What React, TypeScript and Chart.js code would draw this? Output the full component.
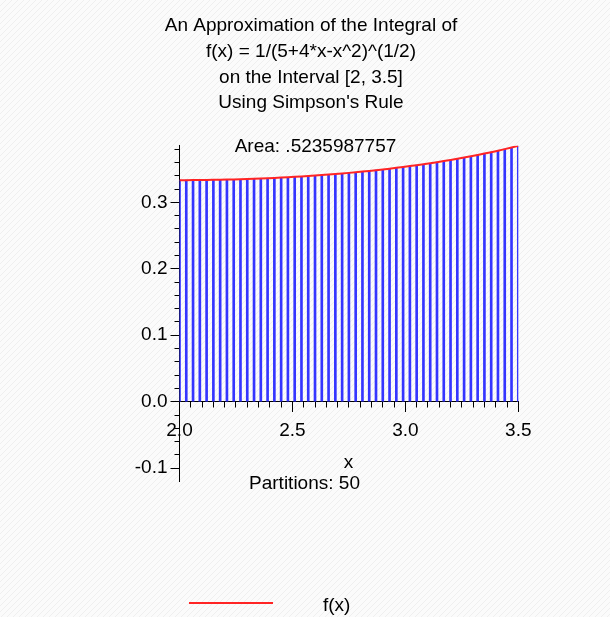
import { useEffect, useRef } from 'react';
import { Chart, registerables } from 'chart.js';

Chart.register(...registerables);

// ---- data ----
const xValues = [
  2.00, 2.03, 2.06, 2.09, 2.12, 2.15, 2.18, 2.21, 2.24, 2.27,
  2.30, 2.33, 2.36, 2.39, 2.42, 2.45, 2.48, 2.51, 2.54, 2.57,
  2.60, 2.63, 2.66, 2.69, 2.72, 2.75, 2.78, 2.81, 2.84, 2.87,
  2.90, 2.93, 2.96, 2.99, 3.02, 3.05, 3.08, 3.11, 3.14, 3.17,
  3.20, 3.23, 3.26, 3.29, 3.32, 3.35, 3.38, 3.41, 3.44, 3.47, 3.50,
];
const fValues = [
  0.33333, 0.33335, 0.33340, 0.33348, 0.33360, 0.33375, 0.33394, 0.33415, 0.33441, 0.33469,
  0.33501, 0.33537, 0.33576, 0.33619, 0.33665, 0.33715, 0.33768, 0.33826, 0.33887, 0.33952,
  0.34021, 0.34094, 0.34171, 0.34252, 0.34337, 0.34427, 0.34521, 0.34619, 0.34722, 0.34830,
  0.34943, 0.35061, 0.35183, 0.35312, 0.35445, 0.35584, 0.35729, 0.35880, 0.36037, 0.36200,
  0.36370, 0.36546, 0.36730, 0.36921, 0.37120, 0.37326, 0.37541, 0.37764, 0.37997, 0.38238, 0.38490,
];
const xMajorTicks = [2.0, 2.5, 3.0, 3.5];
const xMinorTicks = [
  2.00, 2.05, 2.10, 2.15, 2.20, 2.25, 2.30, 2.35, 2.40, 2.45,
  2.50, 2.55, 2.60, 2.65, 2.70, 2.75, 2.80, 2.85, 2.90, 2.95,
  3.00, 3.05, 3.10, 3.15, 3.20, 3.25, 3.30, 3.35, 3.40, 3.45, 3.50,
];
const yMajorTicks = [-0.1, 0.0, 0.1, 0.2, 0.3];
const yMinorTicks = [
  -0.10, -0.08, -0.06, -0.04, -0.02, 0.00, 0.02, 0.04, 0.06, 0.08,
  0.10, 0.12, 0.14, 0.16, 0.18, 0.20, 0.22, 0.24, 0.26, 0.28,
  0.30, 0.32, 0.34, 0.36, 0.38,
];
const titleLines = [
  'An Approximation of the Integral of',
  'f(x) = 1/(5+4*x-x^2)^(1/2)',
  'on the Interval [2, 3.5]',
  "Using Simpson's Rule",
];
const areaText = 'Area: .5235987757';
const partitionsText = 'Partitions: 50';
const xAxisLabel = 'x';
const seriesLabel = 'f(x)';

const FONT_FAMILY = '"Liberation Sans", Arial, sans-serif';
const FONT = `19px ${FONT_FAMILY}`;
const RED = '#ff2424';
const BLUE = '#3535ff';
const Y_AXIS_BOX = 60;

const backgroundPlugin = {
  id: 'hatchBackground',
  beforeDraw(chart: any) {
    const { ctx, width, height } = chart;
    const tile = document.createElement('canvas');
    tile.width = 6;
    tile.height = 6;
    const t = tile.getContext('2d')!;
    t.fillStyle = '#fbfbfb';
    t.fillRect(0, 0, 6, 6);
    t.strokeStyle = '#efefef';
    t.lineWidth = 1;
    t.beginPath();
    t.moveTo(0, 6);
    t.lineTo(6, 0);
    t.stroke();
    const pattern = ctx.createPattern(tile, 'repeat');
    ctx.save();
    ctx.fillStyle = pattern || '#fbfbfb';
    ctx.fillRect(0, 0, width, height);
    ctx.restore();
  },
};

const annotationPlugin = {
  id: 'maplePlotText',
  afterDraw(chart: any) {
    const { ctx } = chart;
    ctx.save();
    ctx.font = FONT;
    ctx.fillStyle = '#000';
    ctx.textAlign = 'center';
    ctx.textBaseline = 'alphabetic';
    const baselines = [31, 56.5, 82.5, 107.5];
    titleLines.forEach((line, i) => ctx.fillText(line, 311, baselines[i]));
    ctx.fillText(areaText, 315.5, 151.5);
    ctx.fillText(xAxisLabel, 348.5, 468);
    ctx.fillText(partitionsText, 304.5, 489);
    // legend
    ctx.strokeStyle = RED;
    ctx.lineWidth = 2;
    ctx.beginPath();
    ctx.moveTo(189, 603);
    ctx.lineTo(273, 603);
    ctx.stroke();
    ctx.textAlign = 'left';
    ctx.fillText(seriesLabel, 323, 611);
    ctx.restore();
  },
};

export default function App() {
  const canvasRef = useRef<HTMLCanvasElement | null>(null);

  useEffect(() => {
    if (!canvasRef.current) return;
    const points = xValues.map((x, i) => ({ x, y: fValues[i] }));
    const tickFont = { family: FONT_FAMILY, size: 19 };
    const chart = new Chart(canvasRef.current, {
      type: 'line',
      data: {
        datasets: [
          {
            type: 'line',
            label: seriesLabel,
            data: points,
            borderColor: RED,
            borderWidth: 2,
            pointRadius: 0,
            tension: 0,
            order: 0,
          },
          {
            type: 'bar',
            label: 'partitions',
            data: points,
            backgroundColor: BLUE,
            borderWidth: 0,
            barThickness: 2,
            order: 1,
          } as any,
        ],
      },
      options: {
        animation: false,
        responsive: false,
        events: [],
        layout: { padding: { left: 179.5 - Y_AXIS_BOX, right: 91.7, top: 145.8, bottom: 135.5 } },
        plugins: {
          legend: { display: false },
          tooltip: { enabled: false },
          title: { display: false },
        },
        scales: {
          x: {
            type: 'linear',
            min: 2,
            max: 3.5,
            offset: false,
            position: { y: 0 } as any,
            z: 1,
            afterBuildTicks: (scale: any) => {
              scale.ticks = xMajorTicks.map((value) => ({ value }));
            },
            ticks: {
              callback: (v: any) => Number(v).toFixed(1),
              font: tickFont,
              color: '#000',
              padding: 8,
              maxRotation: 0,
              autoSkip: false,
            },
            grid: { offset: false, drawOnChartArea: false, drawTicks: true, tickLength: 10, tickColor: '#000', tickWidth: 1 },
            border: { display: true, color: '#000', width: 1 },
          },
          xMinor: {
            type: 'linear',
            axis: 'x',
            min: 2,
            max: 3.5,
            offset: false,
            position: { y: 0 } as any,
            z: 1,
            afterBuildTicks: (scale: any) => {
              scale.ticks = xMinorTicks.map((value) => ({ value }));
            },
            ticks: { display: false },
            grid: { offset: false, drawOnChartArea: false, drawTicks: true, tickLength: 5.5, tickColor: '#000', tickWidth: 1 },
            border: { display: false },
          } as any,
          y: {
            type: 'linear',
            min: -0.12,
            max: 0.385,
            position: 'left',
            z: 1,
            afterBuildTicks: (scale: any) => {
              scale.ticks = yMajorTicks.map((value) => ({ value }));
            },
            afterFit: (scale: any) => {
              scale.width = Y_AXIS_BOX;
            },
            ticks: {
              callback: (v: any) => Number(v).toFixed(1),
              font: tickFont,
              color: '#000',
              padding: 3,
              autoSkip: false,
            },
            grid: { drawOnChartArea: false, drawTicks: true, tickLength: 9, tickColor: '#000', tickWidth: 1 },
            border: { display: true, color: '#000', width: 1 },
          },
          yMinor: {
            type: 'linear',
            axis: 'y',
            min: -0.12,
            max: 0.385,
            position: { x: 2 } as any,
            z: 1,
            afterBuildTicks: (scale: any) => {
              scale.ticks = yMinorTicks.map((value) => ({ value }));
            },
            ticks: { display: false },
            grid: { drawOnChartArea: false, drawTicks: true, tickLength: 5.5, tickColor: '#000', tickWidth: 1 },
            border: { display: false },
          } as any,
        },
      },
      plugins: [backgroundPlugin, annotationPlugin],
    });
    return () => chart.destroy();
  }, []);

  return (
    <div style={{ position: 'absolute', left: 0, top: 0, width: 610, height: 617 }}>
      <canvas ref={canvasRef} width={610} height={617} style={{ display: 'block' }} />
    </div>
  );
}
